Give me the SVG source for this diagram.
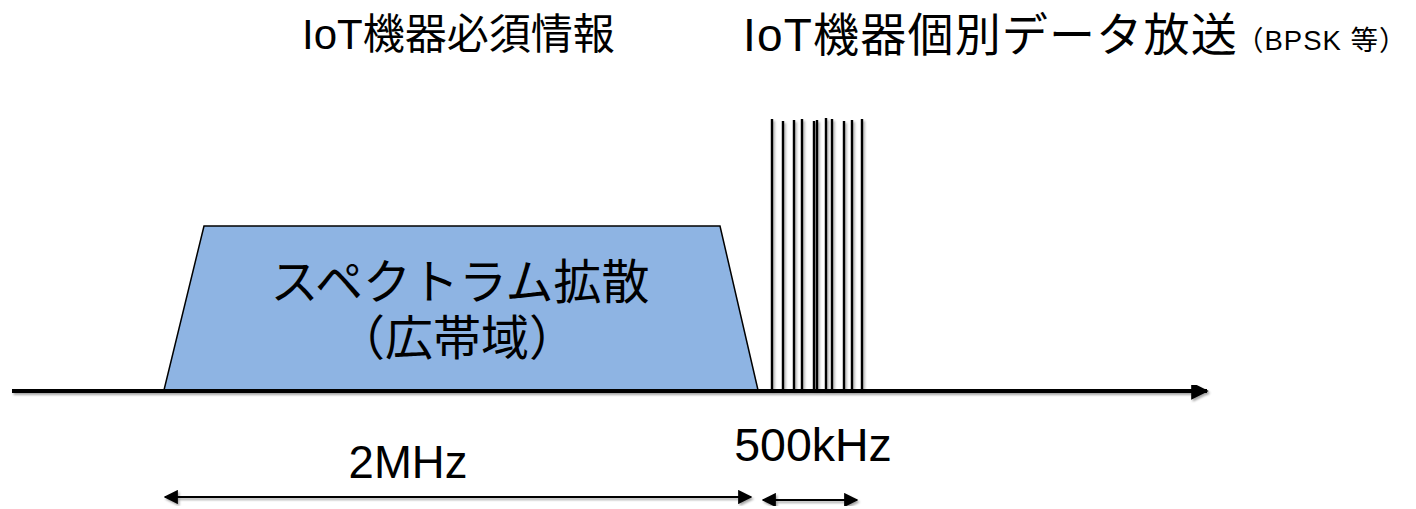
<svg xmlns="http://www.w3.org/2000/svg" width="1416" height="509" viewBox="0 0 1416 509">
  <defs>
    <filter id="shadow" x="-5%" y="-5%" width="110%" height="110%">
      <feDropShadow dx="1.5" dy="2" stdDeviation="1.2" flood-color="#000" flood-opacity="0.35"/>
    </filter>
    <marker id="ahead" viewBox="0 0 10 10" refX="9" refY="5" markerWidth="4.4" markerHeight="4.4" orient="auto-start-reverse" markerUnits="strokeWidth">
      <path d="M0,0 L10,5 L0,10 z" fill="#000"/>
    </marker>
    <marker id="dhead" viewBox="0 0 10 10" refX="9" refY="5" markerWidth="6.5" markerHeight="6.5" orient="auto-start-reverse" markerUnits="strokeWidth">
      <path d="M0,0 L10,5 L0,10 z" fill="#000"/>
    </marker>
  </defs>
  <style>
    .t { font-family: "Liberation Sans", "Noto Sans CJK JP", sans-serif; fill: #000; }
    .ln { stroke: #000; fill: none; }
  </style>

  <g id="title-left">
    <text class="t" x="302" y="49" font-size="42">IoT機器必須情報</text>
  </g>
  <g id="title-right">
    <text class="t" x="743" y="51" font-size="46" letter-spacing="1.2">IoT機器個別データ放送</text>
    <text class="t" x="1236" y="50" font-size="27.5" letter-spacing="1">（BPSK 等）</text>
  </g>

  <g id="spread-spectrum">
    <polygon points="204,226 720,226 758,390 164,390" fill="#8EB4E3" stroke="#000" stroke-width="1.5"/>
    <text class="t" x="460" y="299" font-size="48" text-anchor="middle">スペクトラム拡散</text>
    <text class="t" x="457" y="355" font-size="48" text-anchor="middle">（広帯域）</text>
  </g>

  <g id="narrowband-carriers" filter="url(#shadow)" class="ln" stroke-width="2.4">
    <line x1="772" y1="119" x2="772" y2="390"/>
    <line x1="783" y1="121" x2="783" y2="390"/>
    <line x1="794" y1="120" x2="794" y2="390"/>
    <line x1="802" y1="119" x2="802" y2="390"/>
    <line x1="814" y1="121" x2="814" y2="390"/>
    <line x1="817" y1="120" x2="817" y2="390"/>
    <line x1="826" y1="118" x2="826" y2="390"/>
    <line x1="832" y1="119" x2="832" y2="390"/>
    <line x1="844" y1="121" x2="844" y2="390"/>
    <line x1="852" y1="120" x2="852" y2="390"/>
    <line x1="862" y1="119" x2="862" y2="390"/>
  </g>

  <g id="connectors" filter="url(#shadow)">
    <line class="ln" x1="12" y1="391" x2="1207" y2="391" stroke-width="4" marker-end="url(#ahead)"/>
    <line class="ln" x1="165" y1="497" x2="751" y2="497" stroke-width="2.2" marker-start="url(#dhead)" marker-end="url(#dhead)"/>
    <line class="ln" x1="763" y1="500" x2="857" y2="500" stroke-width="2.2" marker-start="url(#dhead)" marker-end="url(#dhead)"/>
  </g>

  <g id="label-2mhz">
    <text class="t" x="408" y="478" font-size="45.5" text-anchor="middle">2MHz</text>
  </g>
  <g id="label-500khz">
    <text class="t" x="813" y="461" font-size="46.5" text-anchor="middle">500kHz</text>
  </g>
</svg>
